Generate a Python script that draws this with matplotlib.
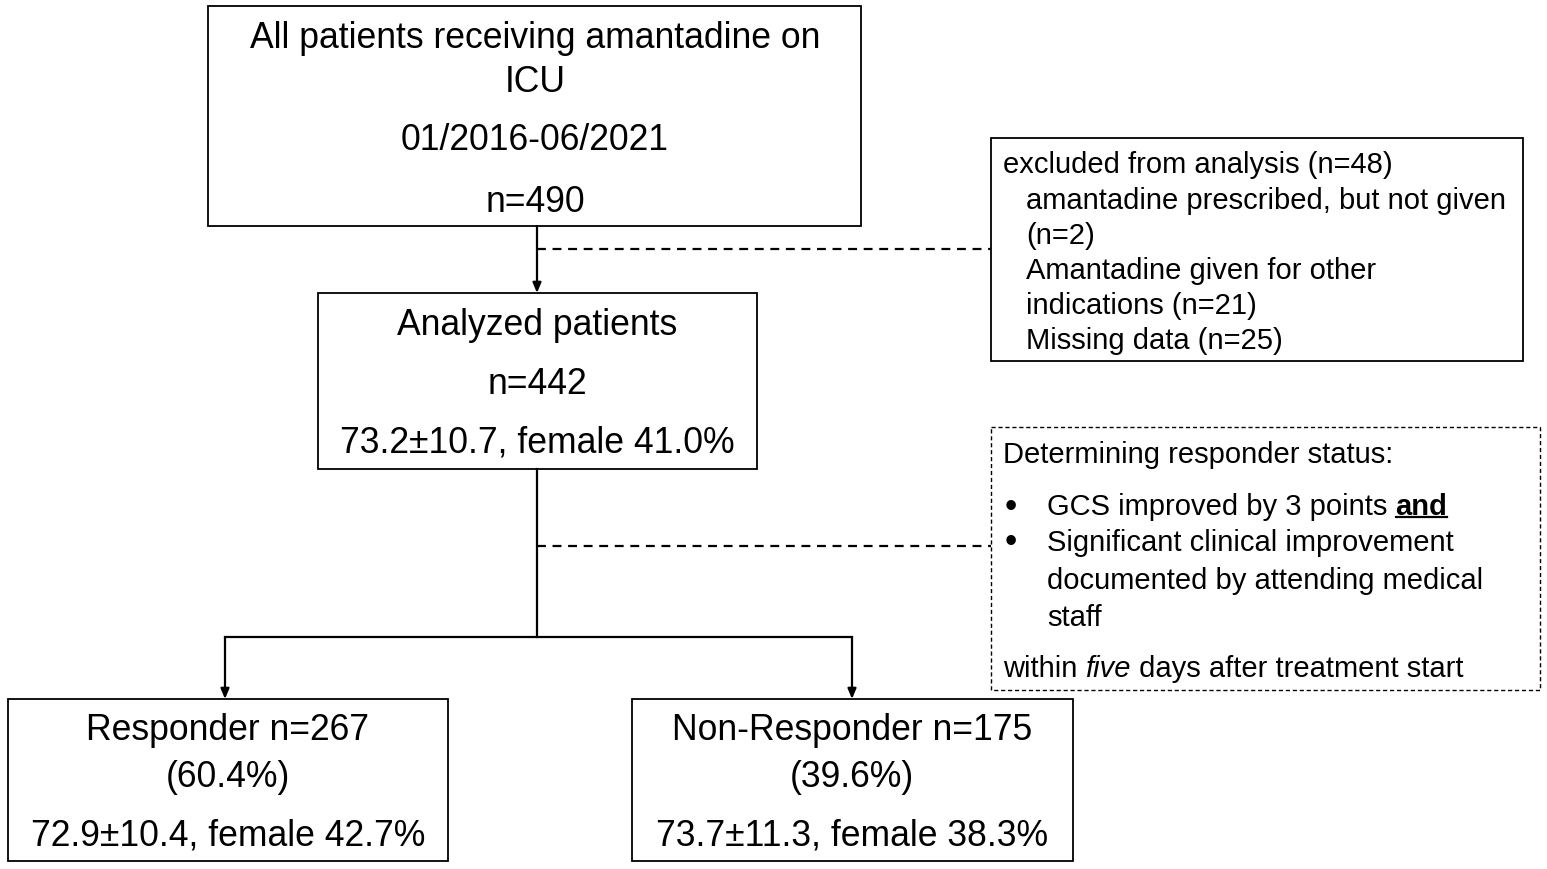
import matplotlib
matplotlib.use("Agg")
import matplotlib.pyplot as plt
from matplotlib.patches import Rectangle

plt.rcParams['font.family'] = ['Liberation Sans', 'DejaVu Sans']

# ---- data ----
top_lines = ["All patients receiving amantadine on", "ICU", "01/2016-06/2021", "n=490"]
analyzed_lines = ["Analyzed patients", "n=442", "73.2\u00b110.7, female 41.0%"]
excluded_lines = ["excluded from analysis (n=48)", "amantadine prescribed, but not given",
                  "(n=2)", "Amantadine given for other", "indications (n=21)", "Missing data (n=25)"]
excluded_indent = [False, True, True, True, True, True]
responder_lines = ["Responder n=267", "(60.4%)", "72.9\u00b110.4, female 42.7%"]
nonresponder_lines = ["Non-Responder n=175", "(39.6%)", "73.7\u00b111.3, female 38.3%"]
criteria_title = "Determining responder status:"
criteria_bullets = [["GCS improved by 3 points"], ["Significant clinical improvement",
                    "documented by attending medical", "staff"]]
criteria_footer = ("within ", "five", " days after treatment start")

W, H = 1547, 870
fig = plt.figure(figsize=(W / 100, H / 100), dpi=100)
ax = fig.add_axes([0, 0, 1, 1])
ax.set_xlim(0, W)
ax.set_ylim(H, 0)
ax.axis('off')

BIG = 25.6
SMALL = 21
DY = 3

def box(x0, y0, x1, y1, dashed=False):
    ax.add_patch(Rectangle((x0, y0), x1 - x0, y1 - y0, fill=False, ec='black',
                           lw=1.3 if not dashed else 1.0,
                           ls=(0, (3, 2)) if dashed else '-'))

def arrow(x, y0, y1):
    ax.annotate('', xy=(x, y1), xytext=(x, y0),
                arrowprops=dict(arrowstyle='-|>,head_length=0.6,head_width=0.25',
                                color='black', lw=1.6, shrinkA=0, shrinkB=0))

# top box
box(208, 7, 861, 227)
for t, y in zip(top_lines, [35, 80, 138, 199]):
    ax.text(535, y + DY, t, ha='center', va='center', fontsize=BIG)

# excluded box
box(991, 139, 1523, 362)
for t, ind, y in zip(excluded_lines, excluded_indent, [162, 198, 233, 268, 303, 338]):
    ax.text(1026 if ind else 1003, y + DY, t, ha='left', va='center', fontsize=SMALL)

# arrow top -> analyzed
arrow(537, 227, 294)
ax.plot([537, 991], [250, 250], color='black', lw=1.6, ls=(0, (4, 3)))

# analyzed box
box(318, 294, 757, 470)
for t, y in zip(analyzed_lines, [323, 382, 440]):
    ax.text(537, y + DY, t, ha='center', va='center', fontsize=BIG)

# vertical split line
ax.plot([537, 537], [470, 638], color='black', lw=1.6)
ax.plot([537, 991], [547, 547], color='black', lw=1.6, ls=(0, (4, 3)))
ax.plot([225, 852], [638, 638], color='black', lw=1.6)
arrow(225, 638, 700)
arrow(852, 638, 700)

# criteria box
box(991, 428, 1540, 691, dashed=True)
ax.text(1003, 452 + DY, criteria_title, ha='left', va='center', fontsize=SMALL)
bullet_y = [[504], [540, 578, 615]]
for lines, ys in zip(criteria_bullets, bullet_y):
    ax.text(1011, ys[0] + DY, '\u2022', ha='center', va='center', fontsize=SMALL * 1.2)
    for t, y in zip(lines, ys):
        ax.text(1047, y + DY, t, ha='left', va='center', fontsize=SMALL)

fig.canvas.draw()
r = fig.canvas.get_renderer()
inv = ax.transData.inverted()
# "and" bold underlined after first bullet text
t0 = [t for t in ax.texts if t.get_text() == criteria_bullets[0][0]][0]
bb = t0.get_window_extent(r)
xe = inv.transform((bb.x1, bb.y0))[0]
sp = ax.text(xe, 504 + DY, ' ', ha='left', va='center', fontsize=SMALL)
bbs = sp.get_window_extent(r)
xa = inv.transform((bbs.x1, 0))[0]
ta = ax.text(xa, 504 + DY, 'and', ha='left', va='center', fontsize=SMALL, fontweight='bold')
bba = ta.get_window_extent(r)
xa1 = inv.transform((bba.x1, 0))[0]
ax.plot([xa, xa1], [518, 518], color='black', lw=1.6)

# footer with italic
x = 1003
for i, part in enumerate(criteria_footer):
    tt = ax.text(x, 666 + DY, part, ha='left', va='center', fontsize=SMALL,
                 style='italic' if i == 1 else 'normal')
    b = tt.get_window_extent(r)
    x = inv.transform((b.x1, 0))[0]

# responder boxes
box(8, 700, 448, 862)
for t, y in zip(responder_lines, [728, 775, 833]):
    ax.text(228, y + DY, t, ha='center', va='center', fontsize=BIG)
box(632, 700, 1073, 862)
for t, y in zip(nonresponder_lines, [728, 775, 833]):
    ax.text(852, y + DY, t, ha='center', va='center', fontsize=BIG)

fig.savefig('out.png', dpi=100, facecolor='white')
